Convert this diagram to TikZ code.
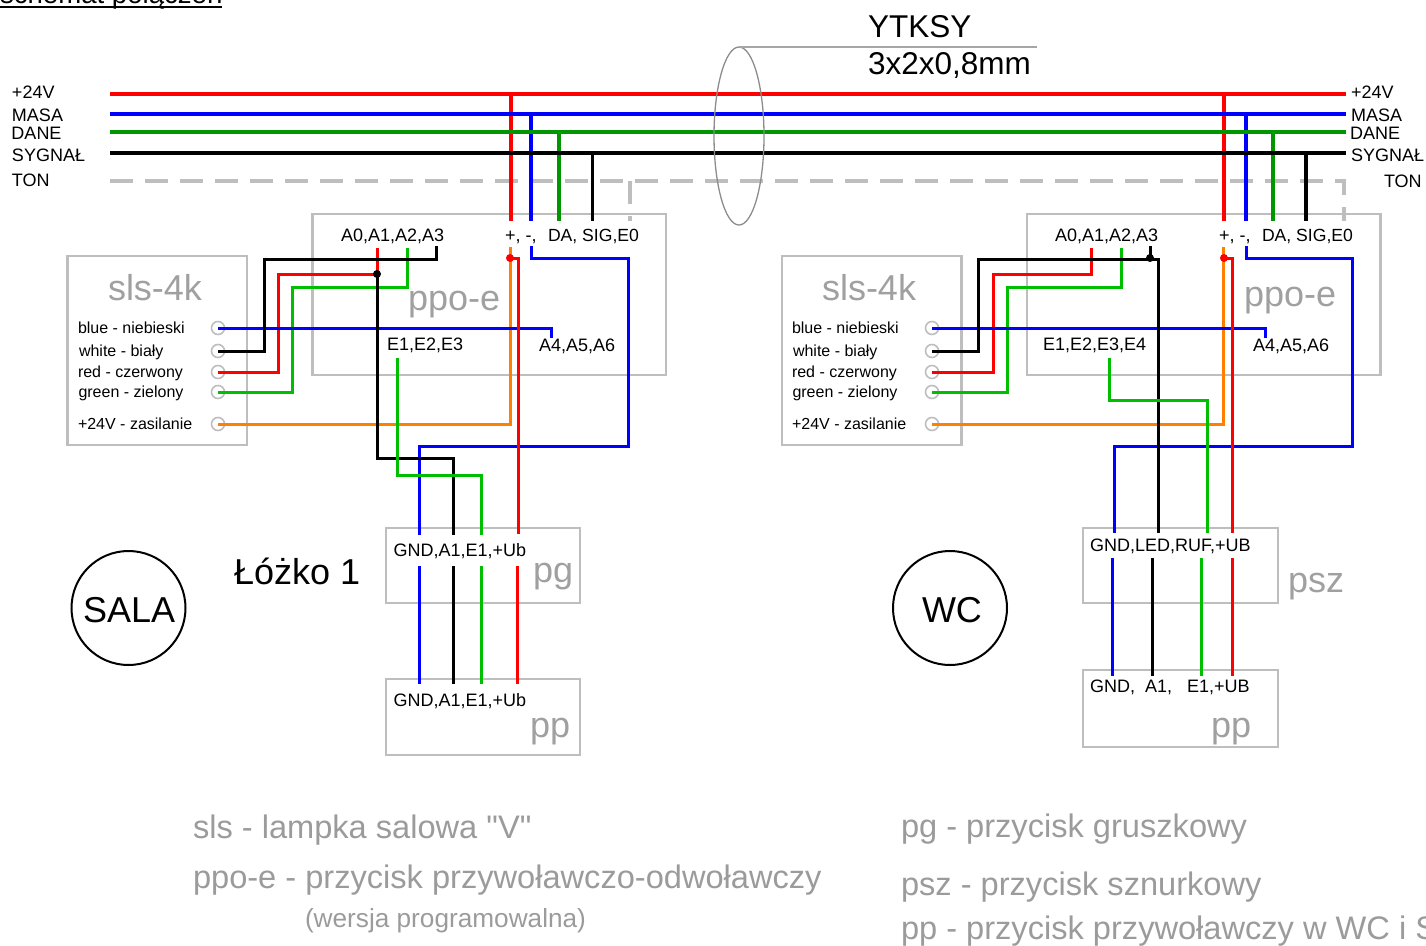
\documentclass[tikz,border=0pt]{standalone}
\usetikzlibrary{shapes.geometric}
\usepackage{fontspec}
\setmainfont{Liberation Sans}
\newfontfamily\plainf{Liberation Sans}
\definecolor{wblue}{RGB}{0,0,255}
\definecolor{wred}{RGB}{255,0,0}
\definecolor{wgreen}{RGB}{0,190,0}
\definecolor{bgreen}{RGB}{0,150,0}
\definecolor{worange}{RGB}{255,128,0}
\definecolor{boxgray}{RGB}{190,190,190}
\definecolor{labgray}{RGB}{160,160,160}
\definecolor{txtgray}{RGB}{155,155,155}
\tikzset{
  every node/.style={inner sep=0pt,outer sep=0pt},
  devbox/.style={draw=boxgray,line width=2.4pt,anchor=north west},
  txt/.style={anchor=base west,text=black,font=\fontsize{18}{19}\selectfont},
  pinlab/.style={anchor=base west,text=black,font=\fontsize{16}{17}\selectfont},
  devlab/.style={anchor=base west,text=labgray,font=\fontsize{36}{38}\selectfont},
  biglab/.style={anchor=base west,text=black,font=\fontsize{36}{38}\selectfont},
  notelab/.style={anchor=base west,text=txtgray,font=\fontsize{32.6}{36}\selectfont},
  pincircle/.style={circle,draw=boxgray,line width=1.6pt,minimum size=13pt},
  roomcircle/.style={circle,draw=black,line width=2pt,minimum size=114pt},
  bus/.style={line width=4pt},
  drop/.style={line width=3.4pt},
  wire/.style={line width=3pt},
  junction/.style={circle,minimum size=8pt}
}
\begin{document}
\begin{tikzpicture}[x=1pt,y=-1pt]
\useasboundingbox (0,0) rectangle (1426,945);
\clip (0,0) rectangle (1426,945);

% title, cut by the top edge
\node[anchor=base west,font=\fontsize{27.6}{29}\selectfont] (title) at (0,3) {schemat połączeń};
\draw[line width=2pt] (title.base west |- 0,7) -- (title.base east |- 0,7);

% devices
\node[devbox,minimum width=353.5pt,minimum height=161pt] (ppoL) at (312.5,214) {};
\node[devbox,minimum width=353.5pt,minimum height=161pt] (ppoR) at (1027,214) {};
\node[devbox,minimum width=179.5pt,minimum height=189pt] (slsL) at (67.5,256) {};
\node[devbox,minimum width=179.5pt,minimum height=189pt] (slsR) at (782,256) {};
\node[devbox,minimum width=194pt,minimum height=75pt] (pg) at (386,528) {};
\node[devbox,minimum width=194pt,minimum height=76pt] (ppL) at (386,679) {};
\node[devbox,minimum width=195pt,minimum height=75pt] (psz) at (1083,528) {};
\node[devbox,minimum width=195pt,minimum height=77pt] (ppR) at (1083,670) {};

% pins
\foreach \n/\y in {a/328,b/351,c/372,d/392,e/424}{
  \node[pincircle] (L\n) at (218,\y) {};
  \node[pincircle] (R\n) at (932,\y) {};
}

% terminals
\coordinate (busRedLa) at (110,93.7);   \coordinate (busRedRa) at (1346,93.7);
\coordinate (busBluLa) at (110,113.5);  \coordinate (busBluRa) at (1346,113.5);
\coordinate (busGrnLa) at (110,131.5);  \coordinate (busGrnRa) at (1346,131.5);
\coordinate (busBlkLa) at (110,153);    \coordinate (busBlkRa) at (1346,153);
\coordinate (busTonL) at (110,181);     \coordinate (busTonR) at (1344,181);
\coordinate (tonDropL) at (630,181);
\foreach \n/\x in {tPl/511,tMl/531,tDl/559,tSl/592.5,tPr/1224,tMr/1246,tDr/1273,tSr/1306}{
  \coordinate (\n) at (\x,221);
}
\coordinate (cableTop) at (739,47);
\coordinate (cableEnd) at (1037,47);

% TON dashed bus
\draw[boxgray,bus,dash pattern=on 23pt off 12pt] (busTonL) -- (busTonR) -- (1344,221);
\draw[boxgray,bus,dash pattern=on 23pt off 12pt] (tonDropL) -- (630,221);

% drops
\draw[wred,drop] (511,93.7) -- (tPl);
\draw[wblue,drop] (531,113.5) -- (tMl);
\draw[bgreen,drop] (559,131.5) -- (tDl);
\draw[black,drop] (592.5,153) -- (tSl);
\draw[wred,drop] (1224,93.7) -- (tPr);
\draw[wblue,drop] (1246,113.5) -- (tMr);
\draw[bgreen,drop] (1273,131.5) -- (tDr);
\draw[black,drop] (1306,153) -- (tSr);

% bus
\draw[wred,bus] (busRedLa) -- (busRedRa);
\draw[wblue,bus] (busBluLa) -- (busBluRa);
\draw[bgreen,bus] (busGrnLa) -- (busGrnRa);
\draw[black,bus] (busBlkLa) -- (busBlkRa);

% cable sleeve
\node[draw=gray!90,line width=1.3pt,ellipse,minimum width=50pt,minimum height=178pt] (sleeve) at (739,136) {};
\draw[gray!70,line width=1.6pt] (cableTop) -- (cableEnd);

% LEFT wiring
\coordinate (jL) at (377,274);
\coordinate (rdL) at (510,258);
\draw[worange,wire,line join=miter] (Le.center) -- (510,424) -- (510,247);
\draw[wred,wire] (Lc.center) -- (278,372) -- (278,274) -- (jL) -- (377,248);
\draw[wgreen,wire] (Ld.center) -- (292,392) -- (292,287) -- (407.5,287) -- (407.5,248);
\draw[wblue,wire] (La.center) -- (551,328) -- (551,338);
\draw[wblue,wire] (531,246) -- (531,258) -- (628,258) -- (628,446) -- (419,446) -- (419,535);
\draw[black,wire] (Lb.center) -- (264.5,351) -- (264.5,259) -- (436,259) -- (436,246);
\draw[black,wire] (jL) -- (377,458) -- (453,458) -- (453,535);
\draw[wgreen,wire] (397,358) -- (397,475) -- (481,475) -- (481,535);
\draw[wred,wire] (rdL) -- (518,258) -- (518,534);
\node[junction,fill=black] (dotL) at (jL) {};
\node[junction,fill=wred] (dotRL) at (rdL) {};

% pg to pp
\draw[wblue,wire] (419,566) -- (419,684);
\draw[black,wire] (453,566) -- (453,684);
\draw[wgreen,wire] (481,566) -- (481,684);
\draw[wred,wire] (517.5,566) -- (517.5,684);

% RIGHT wiring
\coordinate (jR) at (1150,258);
\coordinate (rdR) at (1224,258);
\draw[worange,wire] (Re.center) -- (1223,424) -- (1223,247);
\draw[wred,wire] (Rc.center) -- (993,372) -- (993,274) -- (1091,274) -- (1091,248);
\draw[wgreen,wire] (Rd.center) -- (1007,392) -- (1007,287) -- (1121,287) -- (1121,248);
\draw[wblue,wire] (Ra.center) -- (1265,328) -- (1265,338);
\draw[wblue,wire] (1246,246) -- (1246,258) -- (1352,258) -- (1352,446) -- (1114,446) -- (1114,533);
\draw[black,wire] (Rb.center) -- (978,351) -- (978,259) -- (1158,259) -- (1158,533);
\draw[black,wire] (jR) -- (1150,246);
\draw[wgreen,wire] (1109,358) -- (1109,400) -- (1207.5,400) -- (1207.5,533);
\draw[wred,wire] (rdR) -- (1232,258) -- (1232,533);
\node[junction,fill=black] (dotR) at (jR) {};
\node[junction,fill=wred] (dotRR) at (rdR) {};

% psz to pp
\draw[wblue,wire] (1112.7,558) -- (1112.7,676);
\draw[black,wire] (1152,558) -- (1152,676);
\draw[wgreen,wire] (1201,558) -- (1201,676);
\draw[wred,wire] (1232,558) -- (1232,676);

% rooms
\node[roomcircle] (sala) at (128.5,608) {};
\node[roomcircle] (wc) at (950,608) {};
\node[biglab] (salaT) at (83,622) {SALA};
\node[biglab] (wcT) at (922,622) {WC};
\node[biglab] (bed) at (234,584) {Łóżko 1};

% cable text
\node[anchor=base west,font=\fontsize{31.5}{33}\selectfont] (yt) at (868,37) {YTKSY};
\node[anchor=base west,font=\fontsize{31.5}{33}\selectfont] (yt2) at (868,74) {3x2x0,8mm};

% bus labels
\node[txt] (l1) at (12,98) {+24V};
\node[txt] (l2) at (12,121) {MASA};
\node[txt] (l3) at (11.5,139) {DANE};
\node[txt] (l4) at (12,161) {SYGNAŁ};
\node[txt] (l5) at (12,186) {TON};
\node[txt] (r1) at (1351,98) {+24V};
\node[txt] (r2) at (1351,121) {MASA};
\node[txt] (r3) at (1350,139) {DANE};
\node[txt] (r4) at (1351,161) {SYGNAŁ};
\node[txt] (r5) at (1384,187) {TON};

% module labels
\node[txt] (a1) at (341,241) {A0,A1,A2,A3};
\node[txt] (a2) at (505,241) {+, -,};
\node[txt,font=\fontsize{17.6}{19}\selectfont] (a3) at (548,241) {DA, SIG,E0};
\node[txt] (a4) at (387,350) {E1,E2,E3};
\node[txt] (a5) at (539,351) {A4,A5,A6};
\node[txt] (b1) at (1055,241) {A0,A1,A2,A3};
\node[txt] (b2) at (1219,241) {+, -,};
\node[txt,font=\fontsize{17.6}{19}\selectfont] (b3) at (1262,241) {DA, SIG,E0};
\node[txt] (b4) at (1043,350) {E1,E2,E3,E4};
\node[txt] (b5) at (1253,351) {A4,A5,A6};
\node[txt] (c1) at (393.5,556) {GND,A1,E1,+Ub};
\node[txt] (c2) at (393.5,706) {GND,A1,E1,+Ub};
\node[txt] (c3) at (1090,551) {GND,LED,RUF,+UB};
\node[txt] (c4) at (1090,692) {GND,\ \ A1,\ \ \ E1,+UB};

% pin labels
\node[pinlab] (p1) at (78,333) {blue - niebieski};
\node[pinlab] (p2) at (79,356) {white - biały};
\node[pinlab] (p3) at (78,377) {red - czerwony};
\node[pinlab] (p4) at (78.5,397) {green - zielony};
\node[pinlab] (p5) at (78,429) {+24V - zasilanie};
\node[pinlab] (q1) at (792,333) {blue - niebieski};
\node[pinlab] (q2) at (793,356) {white - biały};
\node[pinlab] (q3) at (792,377) {red - czerwony};
\node[pinlab] (q4) at (792.5,397) {green - zielony};
\node[pinlab] (q5) at (792,429) {+24V - zasilanie};

% grey device names
\node[devlab] (n1) at (108,300) {sls-4k};
\node[devlab] (n2) at (822,300) {sls-4k};
\node[devlab] (n3) at (408,310) {ppo-e};
\node[devlab] (n4) at (1244,306) {ppo-e};
\node[devlab] (n5) at (533,582) {pg};
\node[devlab] (n6) at (530,737) {pp};
\node[devlab] (n7) at (1288,592) {psz};
\node[devlab] (n8) at (1211,737) {pp};

% legend
\node[notelab] (g1) at (193,838) {\plainf sls - lampka salowa "V"};
\node[notelab] (g2) at (193,888) {ppo-e - przycisk przywoławczo-odwoławczy};
\node[anchor=base west,text=txtgray,font=\fontsize{26.2}{28}\selectfont] (g3) at (305,927) {(wersja programowalna)};
\node[notelab] (g4) at (901,837) {pg - przycisk gruszkowy};
\node[notelab] (g5) at (901,895) {psz - przycisk sznurkowy};
\node[notelab] (g6) at (901,939) {pp - przycisk przywoławczy w WC i S};
\end{tikzpicture}
\end{document}
